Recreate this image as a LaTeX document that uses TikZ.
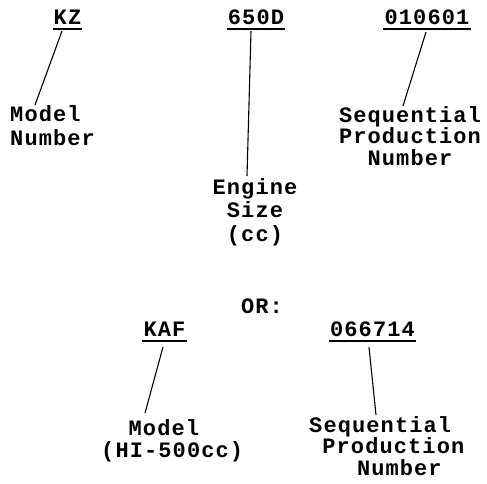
\documentclass[tikz,border=0pt]{standalone}
\usepackage{fontspec}
\newfontfamily\tw{Liberation Mono}[LetterSpace=5]
\tikzset{
  lbl/.style={inner sep=0pt, anchor=base, font=\tw\bfseries\fontsize{22}{22}\selectfont},
  uline/.style={line width=1.6pt},
  conn/.style={line width=1.1pt},
}
\begin{document}
\begin{tikzpicture}[x=1pt,y=-1pt]
\useasboundingbox (0,0) rectangle (487,483);
% top row
\node[lbl] (kz) at (67.5,24) {KZ};
\node[lbl] (cc) at (256,24) {650D};
\node[lbl] (sn) at (427,24) {010601};
\draw[uline] ([xshift=-1pt,yshift=-5pt]kz.base west) -- ([xshift=1pt,yshift=-5pt]kz.base east);
\draw[uline] ([xshift=-1pt,yshift=-5pt]cc.base west) -- ([xshift=1pt,yshift=-5pt]cc.base east);
\draw[uline] ([xshift=-1pt,yshift=-5pt]sn.base west) -- ([xshift=1pt,yshift=-5pt]sn.base east);
% labels
\node[lbl, anchor=base west] (mn) at (10,121)
  {\begin{tabular}[t]{@{}l@{}}Model\\[2pt]Number\end{tabular}};
\node[lbl] (es) at (255,194)
  {\begin{tabular}[t]{@{}c@{}}Engine\\[1pt]Size\\[1pt](cc)\end{tabular}};
\node[lbl] (spn) at (410,122)
  {\begin{tabular}[t]{@{}c@{}}Sequential\\[-1pt]Production\\[-1pt]Number\end{tabular}};
% connectors
\coordinate (kzA) at (62,31);
\coordinate (kzB) at (35,105);
\coordinate (ccA) at (251,31);
\coordinate (ccB) at (247,176);
\coordinate (snA) at (426,32);
\coordinate (snB) at (403,106);
\draw[conn] (kzA) -- (kzB);
\draw[conn] (ccA) -- (ccB);
\draw[conn] (snA) -- (snB);
% OR
\node[lbl] (or) at (262,313) {OR:};
% lower row
\node[lbl] (kaf) at (164.5,336) {KAF};
\node[lbl] (sn2) at (372.5,336) {066714};
\draw[uline] ([xshift=-1pt,yshift=-5pt]kaf.base west) -- ([xshift=1pt,yshift=-5pt]kaf.base east);
\draw[uline] ([xshift=-1pt,yshift=-5pt]sn2.base west) -- ([xshift=1pt,yshift=-5pt]sn2.base east);
\node[lbl, anchor=base west] (mh) at (101,435)
  {\begin{tabular}[t]{@{}l@{}}\phantom{(H}Model\\(HI-500cc)\end{tabular}};
\node[lbl, anchor=base west] (spn2) at (309,432)
  {\begin{tabular}[t]{@{}l@{}}Sequential\\[-1pt]\phantom{S}Production\\[-1pt]\phantom{SSS}\hspace*{6pt}Number\end{tabular}};
\coordinate (kafA) at (163,347);
\coordinate (kafB) at (145,413);
\coordinate (sn2A) at (369,347);
\coordinate (sn2B) at (376,415);
\draw[conn] (kafA) -- (kafB);
\draw[conn] (sn2A) -- (sn2B);
\end{tikzpicture}
\end{document}
